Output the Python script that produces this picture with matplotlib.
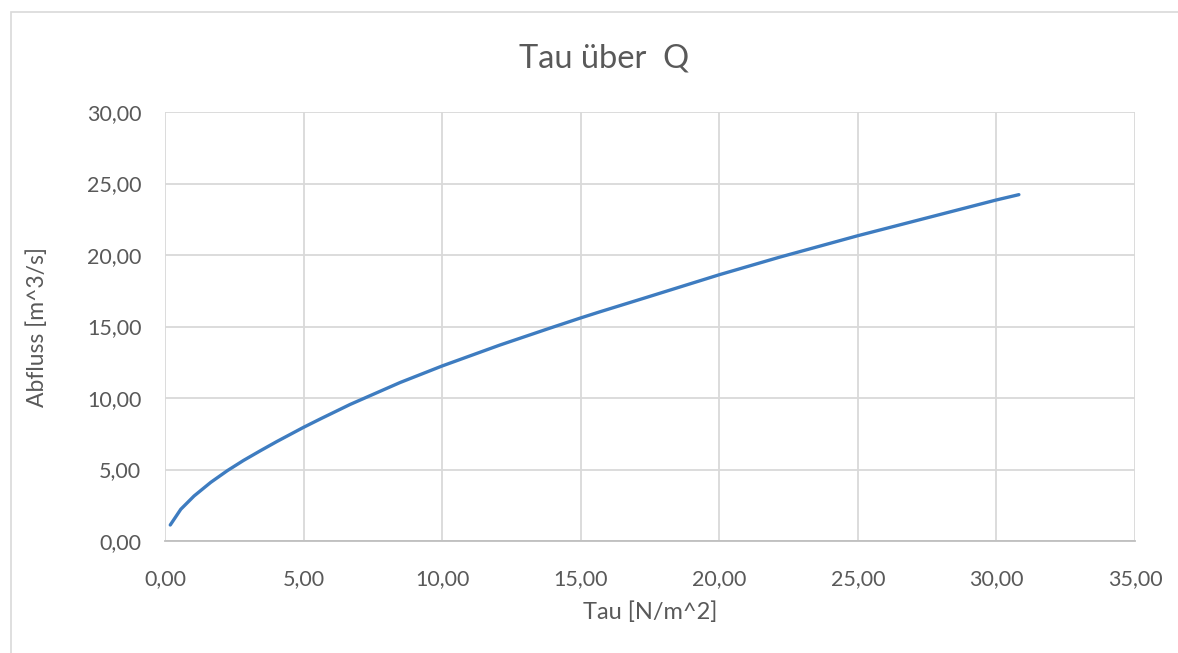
import matplotlib
matplotlib.use("Agg")
import matplotlib.pyplot as plt
from matplotlib.ticker import FuncFormatter, MultipleLocator
from matplotlib.patches import Rectangle

# Shear stress Tau [N/m^2] and discharge Q [m^3/s]
tau = [0.19, 0.57, 1.05, 1.65, 2.25, 2.83, 3.43, 4.03, 5.0, 5.63, 6.68,
       8.48, 10.0, 12.08, 13.88, 15.0, 15.68, 17.4, 20.0, 22.18, 25.0,
       27.6, 30.0, 30.81]
abfluss = [1.12, 2.22, 3.15, 4.1, 4.92, 5.63, 6.3, 6.95, 7.95, 8.56, 9.55,
           11.08, 12.24, 13.7, 14.88, 15.6, 16.02, 17.05, 18.62, 19.85, 21.35,
           22.65, 23.85, 24.22]

title = "Tau über  Q"
xlabel = "Tau [N/m^2]"
ylabel = "Abfluss [m^3/s]"

W, H = 1178, 653
fig = plt.figure(figsize=(W / 100, H / 100), dpi=100)
plt.rcParams['font.family'] = ['Lato', 'DejaVu Sans']
txt = '#595959'

# chart frame
fig.patches.append(Rectangle((11 / W, -0.1), 1.2, 1 - 12 / H + 0.1,
                             transform=fig.transFigure, fill=False,
                             edgecolor='#d9d9d9', linewidth=1.2))

ax = fig.add_axes([165 / W, 1 - 541 / H, (1135 - 165) / W, (541 - 112) / H])
ax.plot(tau, abfluss, color='#3e7cc0', linewidth=2.4,
        solid_capstyle='round', solid_joinstyle='round')

ax.set_xlim(0, 35)
ax.set_ylim(0, 30)
ax.xaxis.set_major_locator(MultipleLocator(5))
ax.yaxis.set_major_locator(MultipleLocator(5))
fmt = FuncFormatter(lambda v, p: f"{v:.2f}".replace('.', ','))
ax.xaxis.set_major_formatter(fmt)
ax.yaxis.set_major_formatter(fmt)
ax.grid(True, color='#d9d9d9', linewidth=1.3)
ax.set_axisbelow(True)
for s in ['top', 'right', 'left']:
    ax.spines[s].set_visible(False)
ax.spines['bottom'].set_color('#bfbfbf')
ax.spines['bottom'].set_linewidth(1.3)
ax.tick_params(length=0, labelsize=15.5, colors=txt)
ax.tick_params(axis='x', pad=20)
ax.tick_params(axis='y', pad=17)

fig.text(650 / W, 1 - 612 / H, xlabel, ha='center', va='center', fontsize=17, color=txt)
fig.text(37 / W, 1 - 327 / H, ylabel, ha='center', va='center', fontsize=16.5,
         color=txt, rotation=90)
fig.text(604 / W, 1 - 58 / H, title, ha='center', va='center', fontsize=23.5, color=txt)

fig.savefig('out.png', dpi=100)
